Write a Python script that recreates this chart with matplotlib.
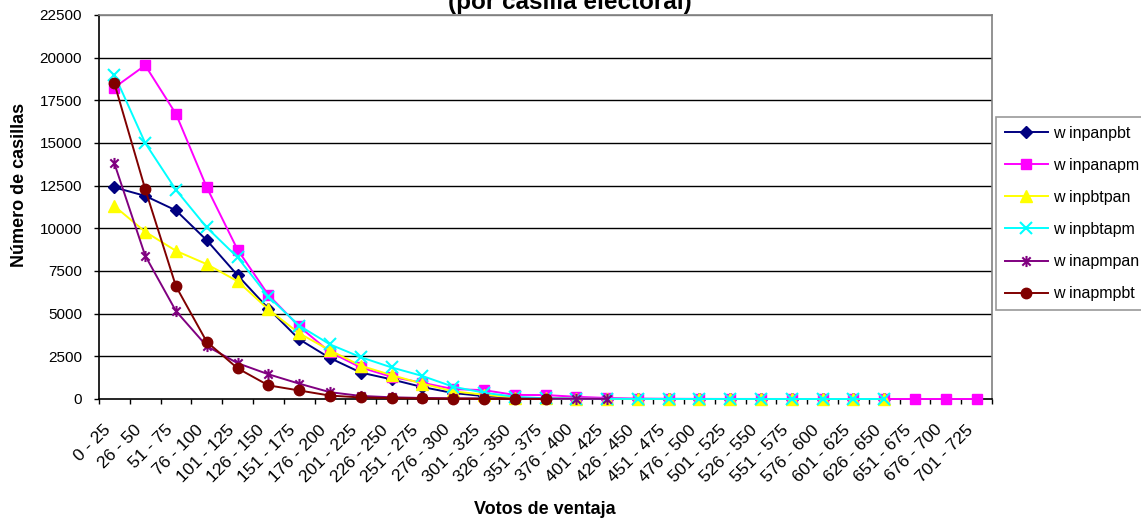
import matplotlib
matplotlib.use("Agg")
import matplotlib.pyplot as plt
from matplotlib.path import Path
import matplotlib.transforms as mtransforms
import numpy as np

plt.rcParams['font.family'] = ['Liberation Sans', 'DejaVu Sans']

categories = ["0 - 25", "26 - 50", "51 - 75", "76 - 100", "101 - 125", "126 - 150",
              "151 - 175", "176 - 200", "201 - 225", "226 - 250", "251 - 275",
              "276 - 300", "301 - 325", "326 - 350", "351 - 375", "376 - 400",
              "401 - 425", "426 - 450", "451 - 475", "476 - 500", "501 - 525",
              "526 - 550", "551 - 575", "576 - 600", "601 - 625", "626 - 650",
              "651 - 675", "676 - 700", "701 - 725"]

winpanpbt = [12400, 11900, 11050, 9300, 7250, 5300, 3500, 2400, 1550, 1150, 700, 350,
             170, 70, 30, 15, 8, 5, 3, 2, 1, 1, 0, 0, 0, 0]
winpanapm = [18250, 19550, 16700, 12400, 8750, 6100, 4250, 2750, 1850, 1300, 950, 580,
             520, 240, 230, 130, 60, 20, 10, 6, 4, 3, 2, 2, 1, 1, 1, 1, 1]
winpbtpan = [11300, 9800, 8680, 7900, 6900, 5250, 3850, 2850, 1950, 1400, 900, 450,
             250, 80, 30, 10, 5, 3, 2, 1, 1, 0, 0, 0, 0, 0]
winpbtapm = [19000, 15000, 12250, 10050, 8300, 6000, 4300, 3200, 2450, 1850, 1350, 720,
             370, 130, 40, 15, 8, 4, 2, 1, 1, 0, 0, 0, 0, 0]
winapmpan = [13800, 8400, 5150, 3100, 2100, 1450, 900, 400, 180, 100, 60, 40, 30, 20,
             15, 10, 5]
winapmpbt = [18500, 12300, 6600, 3350, 1800, 800, 500, 200, 90, 50, 30, 20, 15, 10, 5]

series_names = ["w inpanpbt", "w inpanapm", "w inpbtpan", "w inpbtapm", "w inapmpan", "w inapmpbt"]
series_values = [winpanpbt, winpanapm, winpbtpan, winpbtapm, winapmpan, winapmpbt]

star = Path([(0, -1), (0, 1), (-0.75, -0.75), (0.75, 0.75), (-0.75, 0.75), (0.75, -0.75)],
            [Path.MOVETO, Path.LINETO, Path.MOVETO, Path.LINETO, Path.MOVETO, Path.LINETO])

styles = [
    dict(color="#000080", marker="D", ms=6.5, mfc="#000080", mec="#000080"),
    dict(color="#FF00FF", marker="s", ms=7.5, mfc="#FF00FF", mec="#FF00FF"),
    dict(color="#FFFF00", marker="^", ms=9, mfc="#FFFF00", mec="#FFFF00"),
    dict(color="#00FFFF", marker="x", ms=8, mfc="none", mec="#00FFFF", mew=1.5),
    dict(color="#800080", marker=star, ms=8, mfc="none", mec="#800080", mew=1.5),
    dict(color="#800000", marker="o", ms=7.5, mfc="#800000", mec="#800000"),
]

W, H = 1141, 521
fig = plt.figure(figsize=(W / 100, H / 100), dpi=100)
left, right, top, bottom = 99, 992, 15, 399
ax = fig.add_axes([left / W, 1 - bottom / H, (right - left) / W, (bottom - top) / H])

x = np.arange(len(categories))
handles = []
for name, vals, st in zip(series_names, series_values, styles):
    xs = x[:len(vals)]
    ln, = ax.plot(xs, vals, color=st["color"], lw=1.4, marker=st["marker"],
                  markersize=st["ms"], markerfacecolor=st["mfc"],
                  markeredgecolor=st["mec"], markeredgewidth=st.get("mew", 1.0),
                  label=name, clip_on=False, zorder=3)
    handles.append(ln)

ax.set_xlim(-0.5, len(categories) - 0.5)
ax.set_ylim(0, 22500)
yt = np.arange(0, 22501, 2500)
ax.set_yticks(yt)
ax.set_yticklabels([str(v) for v in yt], fontsize=11)
for v in yt[1:]:
    ax.axhline(v, color="#000000" if v < 22500 else "#808080", lw=1.0, zorder=1)

ax.set_xticks(x)
ax.set_xticklabels(categories, fontsize=12.5, rotation=45, ha="right", va="center",
                   rotation_mode="anchor")
ax.set_xticks(np.arange(-0.5, len(categories)), minor=True)
ax.tick_params(axis="x", which="major", length=0, pad=20.5)
ax.tick_params(axis="x", which="minor", length=3.6, width=1, color="black", direction="out")
ax.tick_params(axis="y", length=3.6, width=1, direction="out", pad=8.6)
offset = mtransforms.ScaledTranslation(-6 / 100, 0, fig.dpi_scale_trans)
for lbl in ax.get_xticklabels():
    lbl.set_transform(lbl.get_transform() + offset)

for s in ["left", "bottom"]:
    ax.spines[s].set_color("black")
    ax.spines[s].set_linewidth(1.2)
for s in ["top", "right"]:
    ax.spines[s].set_color("#808080")
    ax.spines[s].set_linewidth(1.2)

fig.text(20 / W, 1 - 185 / H, "Número de casillas", rotation=90, fontsize=13,
         fontweight="bold", ha="center", va="center")
fig.text(545 / W, 1 - 510 / H, "Votos de ventaja", fontsize=13, fontweight="bold",
         ha="center", va="center")
fig.text(570 / W, 1 - 9 / H, "(por casilla electoral)", fontsize=17.5, fontweight="bold",
         ha="center", va="baseline")

leg = fig.legend(handles=handles, loc="upper left",
                 bbox_to_anchor=(996 / W, 1 - 117 / H), borderaxespad=0,
                 fontsize=11.5, frameon=True, fancybox=False, edgecolor="#808080",
                 handlelength=2.7, handletextpad=0.3, labelspacing=1.07, borderpad=0.55)
leg.get_frame().set_linewidth(1.2)

fig.savefig("out.png", dpi=100, facecolor="white")
